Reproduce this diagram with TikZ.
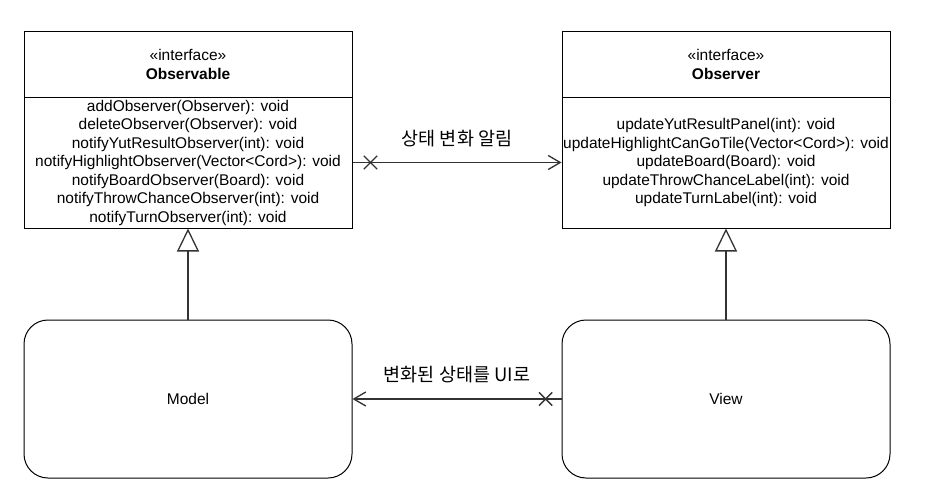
\documentclass[tikz,border=0pt]{standalone}
\usepackage{fontspec}
\setmainfont{Liberation Sans}
\newfontfamily\krfont{Noto Sans CJK KR}
\usetikzlibrary{arrows.meta,shapes.misc}

\begin{document}
\begin{tikzpicture}[x=1pt,y=-1pt,
    font=\fontsize{15.5}{18.5}\selectfont,
    box/.style={draw,line width=1pt,minimum width=328pt,inner sep=0pt,align=center},
    link/.style={draw=black!80,line width=1.3pt},
    xmark/.style={draw,cross out,line width=1.3pt,minimum size=12pt,inner sep=0pt},
    note/.style={font=\krfont\fontsize{18.5}{20}\selectfont}]
  \useasboundingbox (0,0) rectangle (929,503);
  % interfaces
  \node[box,minimum height=65pt] (obsHead) at (188,64.5) {\guillemotleft interface\guillemotright\\\textbf{Observable}};
  \node[box,minimum height=131pt] (obsBody) at (188,162.5) {addObserver(Observer): void\\deleteObserver(Observer): void\\notifyYutResultObserver(int): void\\notifyHighlightObserver(Vector<Cord>): void\\notifyBoardObserver(Board): void\\notifyThrowChanceObserver(int): void\\notifyTurnObserver(int): void};
  \node[box,minimum height=65pt] (obsrHead) at (726,64.5) {\guillemotleft interface\guillemotright\\\textbf{Observer}};
  \node[box,minimum height=131pt] (obsrBody) at (726,162.5) {updateYutResultPanel(int): void\\updateHighlightCanGoTile(Vector<Cord>): void\\updateBoard(Board): void\\updateThrowChanceLabel(int): void\\updateTurnLabel(int): void};
  % model / view
  \node[box,minimum height=158pt,rounded corners=24pt] (model) at (188,399) {Model};
  \node[box,minimum height=158pt,rounded corners=24pt] (view) at (726,399) {View};
  \path[link,-{Triangle[open,length=23pt,width=22pt]}] (model) edge (obsBody) (view) edge (obsrBody);
  % notifications
  \draw[link,-{Straight Barb[length=12pt,width=14pt]}] (obsBody.east) -- node[xmark,pos=0.086]{} (obsrBody.west);
  \draw[link,-{Straight Barb[length=12pt,width=14pt]}] (view.west) -- node[xmark,pos=0.076]{} (model.east);
  \node[note] (topLbl) at (457,139) {상태 변화 알림};
  \node[note] (botLbl) at (457,375) {변화된 상태를 UI로};
\end{tikzpicture}
\end{document}
